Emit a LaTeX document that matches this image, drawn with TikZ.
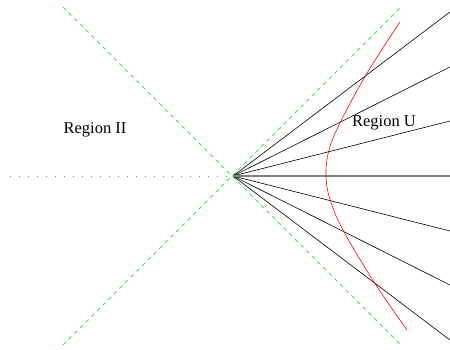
\documentclass[tikz,border=0pt]{standalone}
\usepackage{fontspec}
\setmainfont{Liberation Serif}
\tikzset{
  horizon/.style={green!85!white, line width=0.8pt, dash pattern=on 4pt off 4pt},
  ray/.style={black, line width=0.6pt},
  axisray/.style={gray, line width=1.3pt},
  cut/.style={gray, line width=0.8pt, dash pattern=on 1pt off 8pt},
  orbit/.style={red, line width=0.6pt},
  regionlabel/.style={anchor=base, inner sep=0pt, font=\fontsize{16.5}{19}\selectfont}
}
\begin{document}
\begin{tikzpicture}[x=1pt,y=1pt]
      \useasboundingbox (-233,-174) rectangle (217,176);
      \coordinate (O) at (0,0);
      \draw
        (-170,169) coordinate (hNW)
        (168,-169) coordinate (hSE)
        (-170,-169) coordinate (hSW)
        (168,169) coordinate (hNE)
        (-223,0) coordinate (cutend);
      \draw
        (217,164) coordinate (r1)
        (217,109) coordinate (r2)
        (217,55) coordinate (r3)
        (217,0) coordinate (r4)
        (217,-55) coordinate (r5)
        (217,-109) coordinate (r6)
        (217,-164) coordinate (r7);
      % horizons
      \draw[horizon] (hNW) -- (hSE);
      \draw[horizon] (hSW) -- (hNE);
      % cut to the left
      \draw[cut] (cutend) -- (O);
      % rays
      \begin{scope}[ray]
        \draw (O) -- (r1);
        \draw (O) -- (r2);
        \draw (O) -- (r3);
        \draw (O) -- (r5);
        \draw (O) -- (r6);
        \draw (O) -- (r7);
      \end{scope}
      \draw[axisray] (O) -- (r4);
      % accelerated path
      \draw[orbit] plot[smooth, tension=0.6] coordinates {
        (167,154) (133.5,102) (107.5,54) (96,26) (93,0)
        (97.5,-25) (111,-56) (143,-109) (174,-154)};
      \node[regionlabel] (regII) at (-138,42) {Region II};
      \node[regionlabel] (regU) at (151,49) {Region U};
    \end{tikzpicture}
\end{document}
